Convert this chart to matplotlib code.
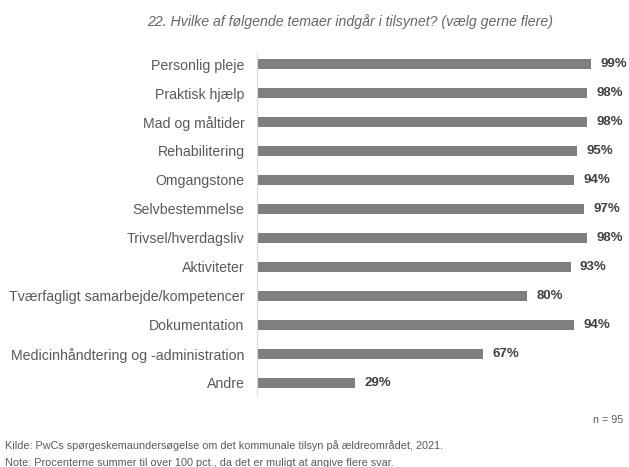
import matplotlib.pyplot as plt

plt.rcParams['font.family'] = ['Liberation Sans', 'DejaVu Sans']

# Data
temaer = ['Personlig pleje', 'Praktisk hjælp', 'Mad og måltider', 'Rehabilitering',
          'Omgangstone', 'Selvbestemmelse', 'Trivsel/hverdagsliv', 'Aktiviteter',
          'Tværfagligt samarbejde/kompetencer', 'Dokumentation',
          'Medicinhåndtering og -administration', 'Andre']
andel = [99, 98, 98, 95, 94, 97, 98, 93, 80, 94, 67, 29]

titel = '22. Hvilke af følgende temaer indgår i tilsynet? (vælg gerne flere)'
n_tekst = 'n = 95'
kilde = 'Kilde: PwCs spørgeskemaundersøgelse om det kommunale tilsyn på ældreområdet, 2021.'
note = 'Note: Procenterne summer til over 100 pct., da det er muligt at angive flere svar.'

fig = plt.figure(figsize=(6.29, 4.67), dpi=100)
ax = fig.add_axes([0.4086, 0.154, 0.536, 0.7325])

pos = list(range(len(temaer)))
ax.barh(pos, [v / 100 for v in andel], height=0.345, color='#7f7f7f')
ax.set_xlim(0, 1)
ax.set_ylim(11.42, -0.38)

ax.set_yticks(pos)
ax.set_yticklabels(temaer, fontsize=10.2, color='#595959')
ax.tick_params(axis='y', length=0, pad=9)
ax.set_xticks([])
for s in ['top', 'right', 'bottom']:
    ax.spines[s].set_visible(False)
ax.spines['left'].set_color('#d9d9d9')

for p, v in zip(pos, andel):
    ax.text(v / 100 + 0.028, p, f'{v}%', va='center', ha='left',
            fontsize=9.5, fontweight='bold', color='#404040')

fig.text(0.557, 1 - 22 / 467, titel, ha='center', va='center',
         fontsize=10.2, style='italic', color='#666666')
fig.text(0.99, 1 - 420 / 467, n_tekst, ha='right', va='center',
         fontsize=7.7, color='#595959')
fig.text(0.008, 1 - 446 / 467, kilde, ha='left', va='center',
         fontsize=7.8, color='#595959')
fig.text(0.008, 1 - 463 / 467, note, ha='left', va='center',
         fontsize=7.8, color='#595959')

plt.savefig('out.png', dpi=100)
